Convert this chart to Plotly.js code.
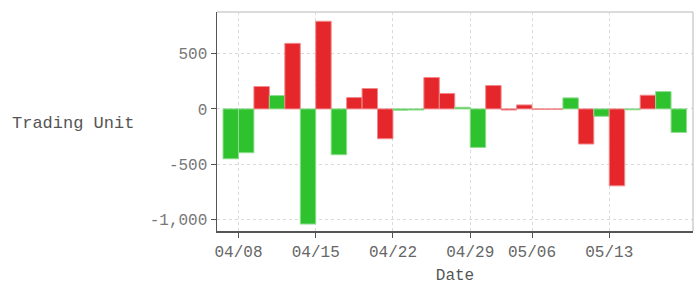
<!DOCTYPE html>
<html>
<head>
<meta charset="utf-8">
<script src="https://cdn.plot.ly/plotly-3.0.1.min.js"></script>
<style>html,body{margin:0;padding:0;background:#fff;}#chart{width:694px;height:285px;}</style>
</head>
<body>
<div id="chart"></div>
<script>
// Trading days (categories)
var dates = ['04/05','04/08','04/09','04/10','04/11','04/12',
             '04/15','04/16','04/17','04/18','04/19',
             '04/22','04/23','04/24','04/25','04/26',
             '04/29','04/30','05/02','05/03',
             '05/06','05/07','05/08','05/09','05/10',
             '05/13','05/14','05/15','05/16','05/17'];
// Trading unit per day
var units = [-452, -397, 203, 121, 594, -1043, 794, -415, 103, 185, -270,
             -12, -10, 285, 140, 15, -349, 212, -10, 36, -4, -3, 100, -318, -67,
             -697, -8, 124, 157, -213];
// Bar direction (r = red, g = green)
var direction = ['g','g','r','g','r','g','r','g','r','r','r',
                 'g','g','r','r','g','g','r','r','r','r','r','g','r','g',
                 'r','g','r','g','g'];
// Tick labels shown on the date axis
var tickLabels = ['04/08','04/15','04/22','04/29','05/06','05/13'];
var yTicks = [-1000, -500, 0, 500];
var yTickText = ['-1,000', '-500', '0', '500'];

var fill = {r: '#e5262a', g: '#2fc22f'};
var edge = {r: '#f08a8c', g: '#8fdc8f'};

var trace = {
  type: 'bar',
  x: dates,
  y: units,
  marker: {
    color: direction.map(function(d){return fill[d];}),
    line: {color: direction.map(function(d){return edge[d];}), width: 1}
  },
  hoverinfo: 'x+y'
};

var font = "'Liberation Mono', 'DejaVu Sans Mono', monospace";

var layout = {
  width: 694, height: 285,
  margin: {l: 217, r: 1, t: 12, b: 54},
  paper_bgcolor: '#fff', plot_bgcolor: '#fff',
  showlegend: false,
  bargap: 0,
  font: {family: font, size: 16, color: '#666'},
  xaxis: {
    type: 'category',
    range: [-0.89, 29.92],
    tickmode: 'array',
    tickvals: tickLabels.map(function(t){return dates.indexOf(t) - 0.5;}),
    ticktext: tickLabels,
    ticks: 'outside', ticklen: 5, tickcolor: '#555',
    showgrid: true, gridcolor: '#dadada', griddash: '3px,3px', gridwidth: 1,
    showline: true, linecolor: '#555', linewidth: 1.5, mirror: false,
    tickfont: {family: font, size: 16, color: '#666'},
    title: {text: 'Date', font: {family: font, size: 16, color: '#555'}, standoff: 13},
    zeroline: false
  },
  yaxis: {
    range: [-1106, 878],
    tickmode: 'array',
    tickvals: yTicks,
    ticktext: yTickText,
    ticks: 'outside', ticklen: 5, tickcolor: '#555',
    showgrid: true, gridcolor: '#dadada', griddash: '3px,3px', gridwidth: 1,
    showline: true, linecolor: '#555', linewidth: 1.5,
    zeroline: false,
    tickfont: {family: font, size: 16, color: '#777'}
  },
  shapes: [
    {type: 'line', xref: 'paper', yref: 'paper', x0: 0, x1: 1, y0: 1, y1: 1, line: {color: '#cfcfcf', width: 1.5}},
    {type: 'line', xref: 'paper', yref: 'paper', x0: 1, x1: 1, y0: 0, y1: 1, line: {color: '#cfcfcf', width: 1.5}}
  ],
  annotations: [
    {text: 'Trading Unit', xref: 'paper', yref: 'paper', x: -0.303, y: 0.49,
     xanchor: 'center', yanchor: 'middle', showarrow: false,
     font: {family: font, size: 17, color: '#555'}}
  ]
};

Plotly.newPlot('chart', [trace], layout, {displayModeBar: false, staticPlot: true});
</script>
</body>
</html>
